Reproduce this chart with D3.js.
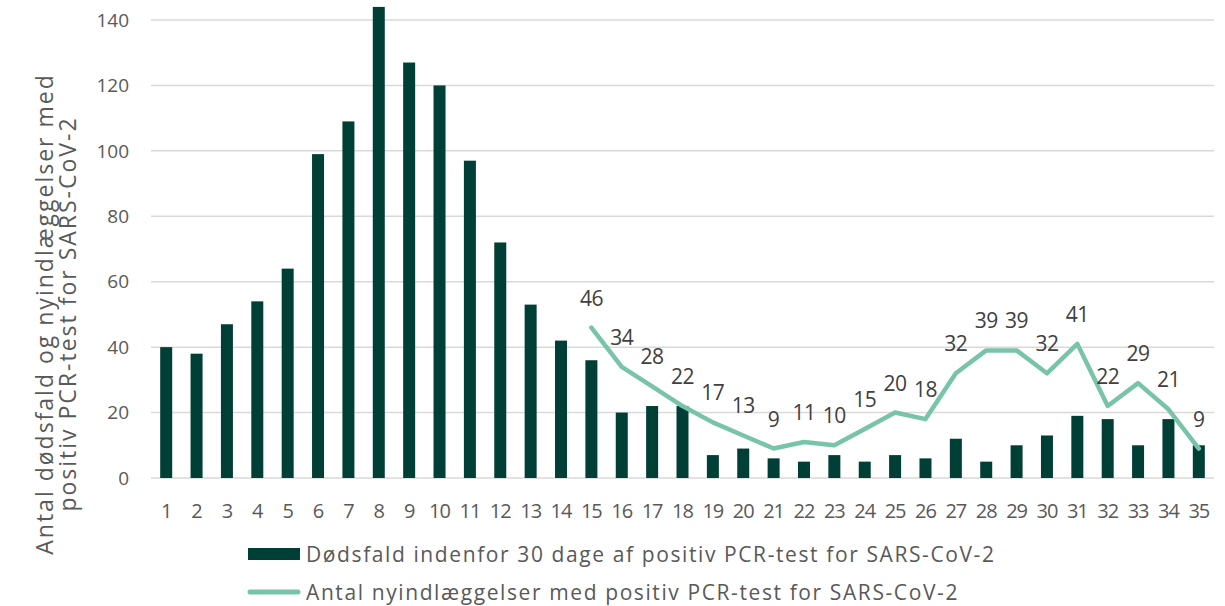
<!DOCTYPE html>
<html>
<head>
<meta charset="utf-8">
<script src="https://cdn.jsdelivr.net/npm/d3@7"></script>
<style>
  html, body { margin: 0; padding: 0; background: #fff; }
  svg { display: block; font-family: 'Open Sans', Lato, sans-serif; }
  text { fill: #595959; }
</style>
</head>
<body>
<div id="chart"></div>
<script>
const width = 1225;
const height = 606;
const margin = { top: 20, right: 11, bottom: 128, left: 151 };

const weeks = d3.range(1, 36).map(String);
const deaths = [40, 38, 47, 54, 64, 99, 109, 144, 127, 120, 97, 72, 53, 42, 36, 20, 22, 22, 7, 9,
  6, 5, 7, 5, 7, 6, 12, 5, 10, 13, 19, 18, 10, 18, 10];
const admissionWeeks = d3.range(15, 36).map(String);
const admissions = [46, 34, 28, 22, 17, 13, 9, 11, 10, 15, 20, 18, 32, 39, 39, 32, 41, 22, 29, 21, 9];
const yTicks = [0, 20, 40, 60, 80, 100, 120, 140];
const deathLabel = 'Dødsfald indenfor 30 dage af positiv PCR-test for SARS-CoV-2';
const admissionLabel = 'Antal nyindlæggelser med positiv PCR-test for SARS-CoV-2';
const yTitle = ['Antal dødsfald og nyindlæggelser med', 'positiv PCR-test for SARS-CoV-2'];

const BAR_COLOR = '#003f36';
const LINE_COLOR = '#78c4a9';

const svg = d3.select('#chart').append('svg')
  .attr('width', width)
  .attr('height', height);

const x = d3.scaleBand()
  .domain(weeks)
  .range([margin.left, width - margin.right]);

const y = d3.scaleLinear()
  .domain([0, 140])
  .range([height - margin.bottom, margin.top]);

// gridlines
svg.append('g')
  .selectAll('line')
  .data(yTicks)
  .enter().append('line')
    .attr('x1', margin.left)
    .attr('x2', width - margin.right)
    .attr('y1', (d) => y(d))
    .attr('y2', (d) => y(d))
    .attr('stroke', '#d9d9d9')
    .attr('stroke-width', 1.5);

// y tick labels
svg.append('g')
  .selectAll('text')
  .data(yTicks)
  .enter().append('text')
    .attr('x', 129)
    .attr('y', (d) => y(d))
    .attr('dy', '0.35em')
    .attr('text-anchor', 'end')
    .style('font-size', '19px')
    .text((d) => d);

// x tick labels
svg.append('g')
  .selectAll('text')
  .data(weeks)
  .enter().append('text')
    .attr('x', (d) => x(d) + x.bandwidth() / 2)
    .attr('y', 518)
    .attr('text-anchor', 'middle')
    .style('font-size', '20px')
    .style('letter-spacing', '-1px')
    .text((d) => d);

// bars
const barW = 12;
svg.append('g')
  .selectAll('rect')
  .data(deaths)
  .enter().append('rect')
    .attr('x', (d, i) => x(weeks[i]) + x.bandwidth() / 2 - barW / 2)
    .attr('y', (d) => y(d))
    .attr('width', barW)
    .attr('height', (d) => y(0) - y(d))
    .attr('fill', BAR_COLOR);

// line
const line = d3.line()
  .x((d, i) => x(admissionWeeks[i]) + x.bandwidth() / 2)
  .y((d) => y(d));

svg.append('path')
  .datum(admissions)
  .attr('d', line)
  .attr('fill', 'none')
  .attr('stroke', LINE_COLOR)
  .attr('stroke-width', 4.5)
  .attr('stroke-linejoin', 'round')
  .attr('stroke-linecap', 'round');

// data labels
svg.append('g')
  .selectAll('text')
  .data(admissions)
  .enter().append('text')
    .attr('x', (d, i) => x(admissionWeeks[i]) + x.bandwidth() / 2)
    .attr('y', (d) => y(d) - 22)
    .attr('text-anchor', 'middle')
    .style('font-size', '21px')
    .style('letter-spacing', '-0.5px')
    .style('fill', '#404040')
    .text((d) => d);

// y title
const yt = svg.append('text')
  .attr('transform', 'translate(56, 314) rotate(-90)')
  .attr('text-anchor', 'middle')
  .style('font-size', '23px')
  .style('letter-spacing', '2px');
yt.selectAll('tspan')
  .data(yTitle)
  .enter().append('tspan')
    .attr('x', 0)
    .attr('dy', (d, i) => i === 0 ? '-0.15em' : '1.0em')
    .text((d) => d);

// legend
const legend = svg.append('g');
legend.append('rect')
  .attr('x', 248)
  .attr('y', 548)
  .attr('width', 52)
  .attr('height', 12)
  .attr('fill', BAR_COLOR);
legend.append('text')
  .attr('x', 306)
  .attr('y', 562)
  .style('font-size', '21px')
  .style('letter-spacing', '1.6px')
  .text(deathLabel);
legend.append('line')
  .attr('x1', 250)
  .attr('x2', 298)
  .attr('y1', 592)
  .attr('y2', 592)
  .attr('stroke', LINE_COLOR)
  .attr('stroke-width', 5)
  .attr('stroke-linecap', 'round');
legend.append('text')
  .attr('x', 306)
  .attr('y', 600)
  .style('font-size', '21px')
  .style('letter-spacing', '1.6px')
  .text(admissionLabel);
</script>
</body>
</html>
